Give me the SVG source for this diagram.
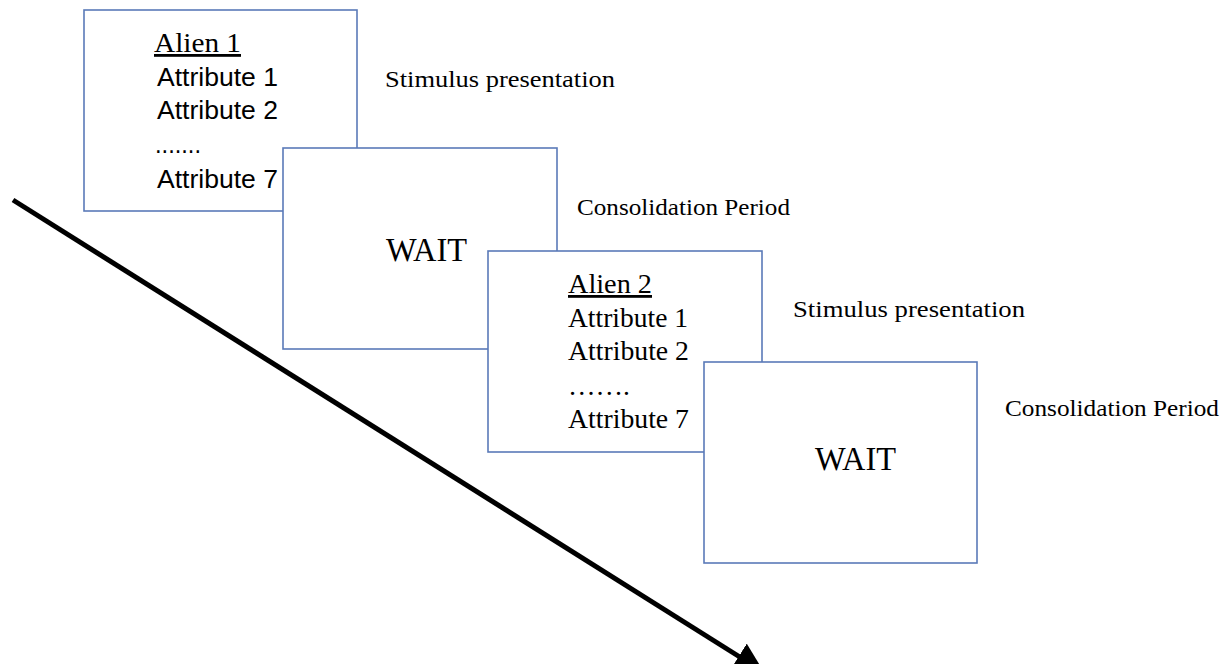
<svg xmlns="http://www.w3.org/2000/svg" width="1226" height="664" viewBox="0 0 1226 664">
<defs>
<style>
.box{fill:#fff;stroke:#5a7ab8;stroke-width:1.6}
.sans{font-family:"Liberation Sans",Arial,sans-serif;font-size:25px;fill:#000}
.serif{font-family:"Liberation Serif","Times New Roman",serif;fill:#000}
.lbl{font-size:23px}
.ttl{font-size:28px;text-decoration:underline}
.attr{font-size:27px}
.wait{font-size:33px}
</style>
<marker id="ah" markerWidth="6" markerHeight="6" refX="1" refY="3" orient="auto" markerUnits="strokeWidth">
<path d="M0,0 L6,3 L0,6 z" fill="#000"/>
</marker>
</defs>
<rect width="1226" height="664" fill="#fff"/>
<g id="connectors">
<line x1="13" y1="200" x2="743" y2="659" stroke="#000" stroke-width="5" marker-end="url(#ah)"/>
</g>
<g id="box1">
<rect class="box" x="84" y="10" width="273" height="201"/>
<text class="serif ttl" x="154" y="52" textLength="87" lengthAdjust="spacingAndGlyphs">Alien 1</text>
<text class="sans" x="157" y="86" textLength="121" lengthAdjust="spacingAndGlyphs">Attribute 1</text>
<text class="sans" x="157" y="119" textLength="121" lengthAdjust="spacingAndGlyphs">Attribute 2</text>
<text class="sans" x="155" y="153" textLength="46" lengthAdjust="spacingAndGlyphs">.......</text>
<text class="sans" x="157" y="188" textLength="121" lengthAdjust="spacingAndGlyphs">Attribute 7</text>
</g>
<g id="label1">
<text class="serif lbl" x="385" y="87" textLength="230" lengthAdjust="spacingAndGlyphs">Stimulus presentation</text>
</g>
<g id="box2">
<rect class="box" x="283" y="148" width="274" height="201"/>
<text class="serif wait" x="386" y="261" textLength="81" lengthAdjust="spacingAndGlyphs">WAIT</text>
</g>
<g id="label2">
<text class="serif lbl" x="577" y="215" textLength="213" lengthAdjust="spacingAndGlyphs">Consolidation Period</text>
</g>
<g id="box3">
<rect class="box" x="488" y="251" width="274" height="201"/>
<text class="serif ttl" x="568" y="293" textLength="84" lengthAdjust="spacingAndGlyphs">Alien 2</text>
<text class="serif attr" x="568" y="327" textLength="120" lengthAdjust="spacingAndGlyphs">Attribute 1</text>
<text class="serif attr" x="568" y="360" textLength="121" lengthAdjust="spacingAndGlyphs">Attribute 2</text>
<text class="serif attr" x="568" y="395" textLength="62" lengthAdjust="spacingAndGlyphs">…….</text>
<text class="serif attr" x="568" y="428" textLength="121" lengthAdjust="spacingAndGlyphs">Attribute 7</text>
</g>
<g id="label3">
<text class="serif lbl" x="793" y="317" textLength="232" lengthAdjust="spacingAndGlyphs">Stimulus presentation</text>
</g>
<g id="box4">
<rect class="box" x="704" y="362" width="273" height="201"/>
<text class="serif wait" x="815" y="470" textLength="81" lengthAdjust="spacingAndGlyphs">WAIT</text>
</g>
<g id="label4">
<text class="serif lbl" x="1005" y="416" textLength="214" lengthAdjust="spacingAndGlyphs">Consolidation Period</text>
</g>
</svg>
